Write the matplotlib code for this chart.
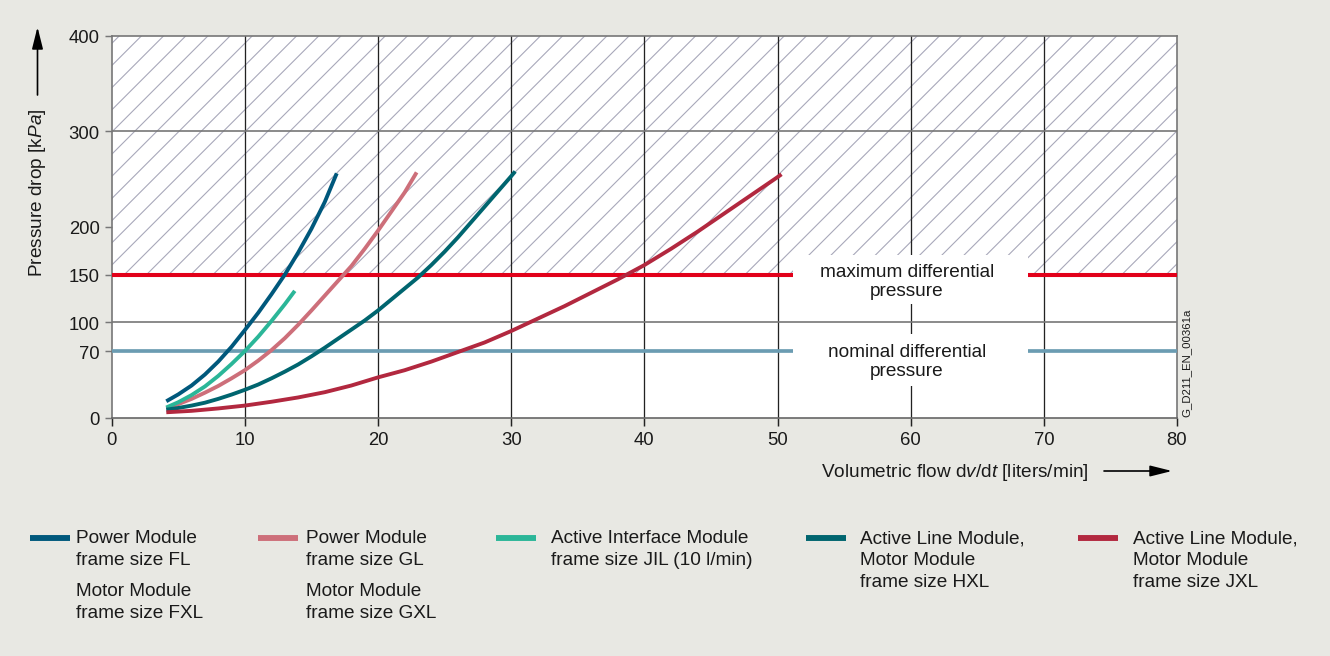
import matplotlib
matplotlib.use('Agg')
import matplotlib.pyplot as plt
from matplotlib.lines import Line2D
from matplotlib.patches import Rectangle

plt.rcParams['font.family'] = ['Liberation Sans', 'DejaVu Sans']
plt.rcParams['mathtext.fontset'] = 'custom'
plt.rcParams['mathtext.rm'] = 'Liberation Sans'
plt.rcParams['mathtext.it'] = 'Liberation Sans:italic'
plt.rcParams['hatch.linewidth'] = 0.6

# --- data (flow in l/min, pressure drop in kPa) ---
fl_x = [4.1, 5, 6, 7, 8, 9, 10, 11, 12, 13, 14, 15, 16, 16.9]
fl_y = [17.5, 24.7, 34, 45.5, 59, 74.5, 92, 110, 129.5, 150, 173, 198,
        226, 256]

gl_x = [4.1, 5, 6, 7, 8, 9, 10, 11, 12, 13, 14, 15, 16, 17, 18, 19, 20,
        21, 22, 22.9]
gl_y = [10, 14.5, 20, 26.5, 33.5, 41.5, 50, 60, 71, 83.5, 97.5, 112.5,
        128, 143.5, 159, 177, 196, 216, 236, 257]

jil_x = [4.1, 5, 6, 7, 8, 9, 10, 11, 12, 13, 13.75]
jil_y = [11, 16.5, 24, 33, 44, 56.5, 70, 85, 101.5, 119, 133]

hxl_x = [4.1, 5, 6, 7, 8, 9, 10, 11, 12, 13, 14, 15, 16, 17, 18, 19, 20,
         21, 22, 23, 24, 25, 26, 27, 28, 29, 30, 30.3]
hxl_y = [8.7, 10.5, 13, 16, 20, 24.5, 29.5, 35, 41.5, 48.5, 56, 64.5, 73.5,
         83, 92.5, 102, 112.5, 124, 135.5, 147, 160, 174, 189, 205, 221,
         237, 253, 258]

jxl_x = [4.1, 6, 8, 10, 12, 14, 16, 18, 20, 22, 24, 26, 28, 30, 32, 34, 36,
         38, 40, 42, 44, 46, 48, 50, 50.3]
jxl_y = [6, 7.5, 10, 13, 17, 21.5, 27, 34, 42.5, 50, 59, 69, 79, 91, 104,
         117, 131, 145, 160, 177, 195, 214, 233, 252, 255]

max_dp = 150
nominal_dp = 70
danger_top = 400

x_ticks = [0, 10, 20, 30, 40, 50, 60, 70, 80]
y_ticks = [0, 70, 100, 150, 200, 300, 400]
y_grid = [100, 300]

series = [
    (fl_x, fl_y, '#00587c',
     [['Power Module', 'frame size FL'], ['Motor Module', 'frame size FXL']]),
    (gl_x, gl_y, '#cd6f7a',
     [['Power Module', 'frame size GL'], ['Motor Module', 'frame size GXL']]),
    (jil_x, jil_y, '#2bb698',
     [['Active Interface Module', 'frame size JIL (10 l/min)']]),
    (hxl_x, hxl_y, '#00656f',
     [['Active Line Module,', 'Motor Module', 'frame size HXL']]),
    (jxl_x, jxl_y, '#b2283f',
     [['Active Line Module,', 'Motor Module', 'frame size JXL']]),
]

W, H = 1330, 657
fig = plt.figure(figsize=(W / 133, H / 133), dpi=133, facecolor='#e8e8e3')
ax = fig.add_axes([111.7 / W, 1 - 419 / H, (1177 - 111.7) / W,
                   (419 - 36.7) / H])
ax.set_facecolor('white')
ax.set_xlim(0, 80)
ax.set_ylim(0, 400)

# hatched zone above the maximum differential pressure
ax.fill_between([0, 80], max_dp, danger_top, facecolor='none',
                hatch='//', edgecolor='#a8a8ba', linewidth=0, zorder=1)

# grid
for xv in x_ticks[1:-1]:
    ax.axvline(xv, color='#222222', lw=0.7, zorder=2)
for yv in y_grid:
    ax.axhline(yv, color='#777777', lw=0.9, zorder=2)

ax.axhline(max_dp, color='#e2001a', lw=2.2, zorder=3)
ax.axhline(nominal_dp, color='#6b9cb2', lw=2.0, zorder=3)

# white label backgrounds, then the labels
ax.add_patch(Rectangle((51.2, 119), 17.6, 51.5, facecolor='white',
                       edgecolor='none', zorder=4))
ax.add_patch(Rectangle((51.2, 33.5), 17.6, 54.5, facecolor='white',
                       edgecolor='none', zorder=4))
ax.text(59.7, 143.6, 'maximum differential\npressure', ha='center',
        va='center', fontsize=10.3, linespacing=1.15, color='#1a1a1a',
        zorder=6)
ax.text(59.7, 59.6, 'nominal differential\npressure', ha='center',
        va='center', fontsize=10.3, linespacing=1.15, color='#1a1a1a',
        zorder=6)

for xs, ys, color, _ in series:
    ax.plot(xs, ys, color=color, lw=2.1, solid_capstyle='butt',
            solid_joinstyle='round', zorder=5)

# axes styling
ax.set_xticks(x_ticks)
ax.set_yticks(y_ticks)
ax.tick_params(axis='both', labelsize=10, labelcolor='#1a1a1a',
               direction='out', width=0.8)
ax.tick_params(axis='y', length=3.8, pad=2.7, color='#777777')
ax.tick_params(axis='x', length=4.2, pad=3, color='#222222')
for side in ['left', 'top', 'right']:
    ax.spines[side].set_color('#777777')
    ax.spines[side].set_linewidth(0.9)
ax.spines['bottom'].set_color('#666666')
ax.spines['bottom'].set_linewidth(0.9)

# axis titles with arrows
fig.text(37.5 / W, 1 - 193 / H, r'Pressure drop [k$\mathit{Pa}$]',
         rotation=90, ha='center', va='center', fontsize=10.3,
         color='#1a1a1a')
fig.text(955 / W, 1 - 472.5 / H,
         r'Volumetric flow d$\mathit{v}$/d$\mathit{t}$ [liters/min]',
         ha='center', va='center', fontsize=10.3, color='#1a1a1a')
arrow_style = dict(arrowstyle='-|>,head_length=1.0,head_width=0.25',
                   color='black', lw=0.9, mutation_scale=10,
                   shrinkA=0, shrinkB=0)
ax.annotate('', xy=(37.5 / W, 1 - 28 / H), xytext=(37.5 / W, 1 - 96 / H),
            xycoords='figure fraction', textcoords='figure fraction',
            arrowprops=arrow_style)
ax.annotate('', xy=(1172 / W, 1 - 472 / H), xytext=(1104 / W, 1 - 472 / H),
            xycoords='figure fraction', textcoords='figure fraction',
            arrowprops=arrow_style)

fig.text(1186.5 / W, 1 - 363 / H, 'G_D211_EN_00361a', rotation=90,
         ha='center', va='center', fontsize=6.2, color='#1a1a1a')

# legend below the chart
handle_x = [30, 258, 496, 806, 1078]
text_x = [76, 306, 551, 860, 1133]
for (_, _, color, paragraphs), hx, tx in zip(series, handle_x, text_x):
    fig.add_artist(Line2D([hx / W, (hx + 40) / W], [1 - 539 / H] * 2,
                          color=color, lw=3.2, solid_capstyle='butt'))
    y = 539
    for para in paragraphs:
        for line in para:
            fig.text(tx / W, 1 - y / H, line, ha='left', va='center',
                     fontsize=10.3, color='#1a1a1a')
            y += 22
        y += 9

fig.savefig('out.png', dpi=133, facecolor=fig.get_facecolor())
